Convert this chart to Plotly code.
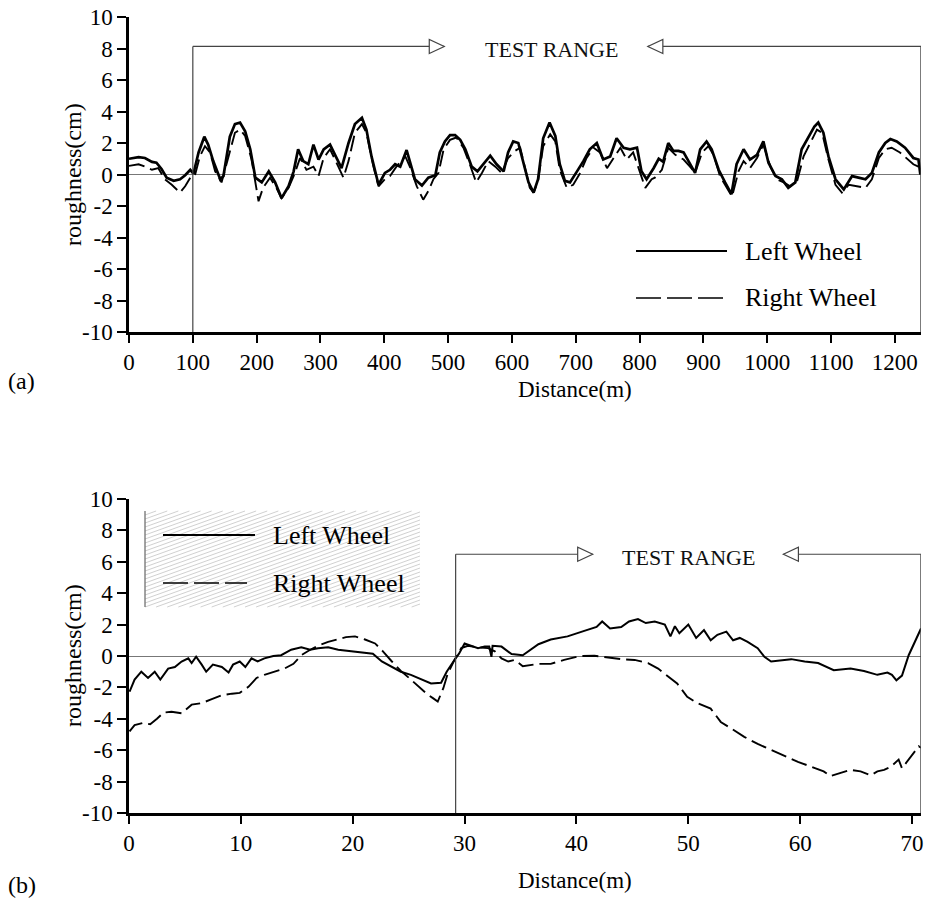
import plotly.graph_objects as go
from plotly.subplots import make_subplots

# ---------------- data ----------------
# (a) long road section, distance in m
top_x_left = [0, 15, 25, 36, 43, 51, 59, 70, 80, 88, 96, 101, 109, 118, 124, 132, 143, 148, 158, 166, 174, 182, 190, 198, 208, 219, 229, 239, 250, 258, 265, 273, 281, 289, 297, 305, 315, 323, 333, 344, 354, 365, 372, 380, 391, 401, 409, 417, 425, 435, 440, 448, 459, 469, 480, 487, 495, 503, 511, 519, 527, 537, 546, 555, 566, 576, 587, 594, 602, 610, 618, 626, 634, 641, 649, 659, 668, 675, 683, 691, 702, 712, 722, 733, 743, 754, 764, 775, 785, 796, 803, 811, 822, 830, 837, 845, 853, 861, 869, 877, 887, 895, 905, 913, 924, 934, 944, 952, 963, 973, 984, 994, 1002, 1013, 1023, 1033, 1044, 1054, 1065, 1074, 1080, 1088, 1096, 1107, 1120, 1133, 1143, 1154, 1164, 1175, 1185, 1193, 1203, 1216, 1229, 1237, 1240]
top_left = [1.0, 1.1, 1.05, 0.8, 0.75, 0.35, -0.2, -0.4, -0.3, -0.05, 0.3, 0.05, 1.4, 2.4, 1.9, 0.85, -0.3, -0.1, 2.4, 3.2, 3.3, 2.75, 1.6, -0.2, -0.5, 0.2, -0.5, -1.5, -0.75, 0.2, 1.6, 0.85, 0.65, 1.9, 0.95, 1.6, 1.9, 1.25, 0.4, 2.0, 3.2, 3.6, 2.85, 1.15, -0.65, 0.1, 0.3, 0.65, 0.5, 1.55, 0.85, -0.3, -0.7, -0.2, -0.05, 1.4, 2.1, 2.5, 2.5, 2.2, 1.6, 0.5, 0.2, 0.65, 1.2, 0.65, 0.2, 1.4, 2.1, 2.0, 0.65, -0.5, -1.15, -0.3, 2.3, 3.3, 2.45, 0.65, -0.4, -0.5, 0.2, 0.85, 1.6, 2.0, 0.95, 1.15, 2.3, 1.7, 1.6, 1.7, 0.2, -0.3, 0.4, 1.0, 0.8, 2.0, 1.5, 1.5, 1.4, 0.85, 0.1, 1.6, 2.1, 1.6, 0.3, -0.5, -1.25, 0.65, 1.6, 0.95, 1.25, 2.1, 0.75, -0.1, -0.3, -0.85, -0.5, 1.6, 2.45, 3.05, 3.3, 2.65, 1.15, -0.3, -0.95, -0.1, -0.2, -0.3, 0.1, 1.4, 2.0, 2.25, 2.1, 1.7, 1.05, 0.95, 0.0]

top_x_right = [0, 15, 25, 36, 46, 56, 67, 80, 88, 96, 103, 111, 119, 127, 135, 145, 156, 166, 174, 182, 192, 198, 203, 210, 221, 231, 239, 250, 260, 268, 278, 289, 297, 305, 315, 328, 336, 344, 354, 365, 372, 383, 391, 401, 409, 419, 433, 440, 451, 461, 469, 477, 485, 493, 503, 513, 524, 534, 544, 553, 563, 574, 584, 594, 605, 613, 621, 628, 634, 641, 649, 660, 668, 675, 686, 696, 707, 717, 728, 738, 749, 759, 770, 780, 790, 801, 809, 819, 824, 835, 845, 856, 869, 879, 887, 898, 908, 916, 926, 937, 945, 955, 963, 973, 984, 994, 1005, 1015, 1026, 1036, 1047, 1057, 1067, 1078, 1086, 1096, 1107, 1117, 1128, 1141, 1154, 1164, 1175, 1185, 1195, 1208, 1221, 1229, 1237]
top_right = [0.55, 0.65, 0.5, 0.3, 0.4, -0.3, -0.65, -1.15, -0.75, -0.2, -0.1, 1.15, 1.8, 1.4, 0.2, -0.5, 1.15, 2.65, 2.85, 2.45, 0.95, -0.5, -1.7, -0.85, -0.2, -0.85, -1.5, -0.85, 0.1, 1.05, 0.3, 0.5, -0.1, 1.05, 1.6, 0.5, -0.2, 0.85, 2.65, 3.2, 2.65, 0.5, -0.75, -0.3, -0.1, 0.5, 1.15, 0.5, -0.75, -1.6, -1.05, -0.3, 0.1, 1.6, 2.2, 2.35, 1.7, 0.65, -0.5, 0.1, 0.85, 0.5, 0.1, 1.05, 1.5, 1.7, 0.4, -0.85, -1.15, -0.4, 1.8, 2.55, 2.1, 0.3, -0.85, -0.65, 0.1, 1.05, 1.7, 1.4, 0.4, 1.05, 1.7, 0.95, 1.4, 0.1, -0.85, -0.3, -0.2, 0.3, 1.7, 1.25, 0.95, 0.5, 0.1, 1.4, 1.8, 1.25, -0.1, -0.85, -1.4, 0.2, 0.85, 0.4, 1.05, 1.9, 0.5, -0.3, -0.5, -0.75, -0.4, 1.15, 2.0, 2.85, 2.65, 0.95, -0.65, -1.15, -0.65, -0.75, -0.85, -0.3, 1.05, 1.6, 1.7, 1.4, 0.95, 0.65, 0.5]

# (b) short section, distance in m
bot_x_left = [0.05, 0.5, 1.1, 1.7, 2.3, 2.8, 3.5, 4.1, 4.7, 5.3, 5.6, 6.0, 6.5, 6.9, 7.5, 8.3, 8.9, 9.3, 9.9, 10.4, 10.95, 11.5, 12.1, 12.9, 13.6, 14.5, 15.4, 16.2, 16.9, 17.8, 18.7, 19.9, 21.1, 21.8, 22.6, 23.5, 24.3, 25.2, 26.1, 27.0, 27.9, 28.4, 29.0, 29.5, 30.0, 30.6, 31.2, 31.8, 32.2, 32.4, 32.5, 33.3, 34.2, 35.2, 36.6, 37.7, 39.2, 40.7, 41.8, 42.3, 43.0, 44.0, 44.7, 45.5, 46.2, 47.0, 47.9, 48.4, 48.8, 49.2, 50.0, 50.7, 51.4, 52.0, 52.6, 53.4, 54.0, 54.6, 55.3, 56.2, 56.8, 57.4, 58.0, 59.2, 60.4, 61.6, 63.0, 64.5, 65.7, 66.9, 67.8, 68.2, 68.6, 69.1, 69.7, 70.3, 70.8]
bot_left = [-2.27, -1.5, -1.0, -1.4, -1.0, -1.5, -0.8, -0.7, -0.35, -0.15, -0.45, -0.05, -0.55, -1.0, -0.55, -0.7, -1.05, -0.55, -0.35, -0.7, -0.15, -0.35, -0.15, 0.0, 0.05, 0.4, 0.55, 0.4, 0.5, 0.55, 0.4, 0.3, 0.2, 0.15, -0.35, -0.7, -1.0, -1.2, -1.5, -1.75, -1.7, -1.0, -0.35, 0.15, 0.8, 0.65, 0.5, 0.6, 0.6, -0.05, 0.65, 0.6, 0.12, 0.05, 0.75, 1.05, 1.25, 1.6, 1.85, 2.2, 1.75, 1.85, 2.2, 2.35, 2.1, 2.2, 2.0, 1.25, 1.9, 1.45, 2.0, 1.15, 1.65, 1.0, 1.35, 1.55, 1.0, 1.15, 0.9, 0.5, -0.05, -0.35, -0.3, -0.2, -0.35, -0.45, -0.9, -0.8, -0.95, -1.2, -1.05, -1.2, -1.55, -1.25, 0.05, 1.0, 1.75]

bot_x_right = [0.05, 0.5, 1.3, 1.9, 2.5, 3.1, 3.8, 4.7, 5.6, 6.5, 7.4, 8.3, 9.2, 9.9, 10.7, 11.4, 12.1, 13.0, 13.9, 14.7, 15.4, 16.2, 16.9, 17.8, 18.7, 19.4, 20.2, 21.1, 22.0, 22.7, 23.5, 24.3, 25.2, 26.0, 26.6, 27.2, 27.6, 28.1, 28.5, 29.1, 29.7, 30.3, 31.2, 32.1, 32.7, 33.3, 33.9, 34.5, 35.2, 36.6, 37.7, 38.9, 40.3, 41.6, 42.8, 44.0, 45.2, 46.4, 47.3, 48.2, 49.0, 49.9, 50.8, 52.0, 52.9, 53.8, 55.0, 56.2, 57.4, 58.6, 59.8, 61.0, 62.1, 62.7, 63.6, 64.5, 65.4, 66.3, 66.9, 67.5, 68.1, 68.8, 69.1, 69.9, 70.6, 70.8]
bot_right = [-4.8, -4.4, -4.25, -4.35, -4.0, -3.6, -3.55, -3.65, -3.1, -3.0, -2.75, -2.5, -2.4, -2.35, -1.95, -1.4, -1.2, -1.0, -0.8, -0.5, 0.05, 0.4, 0.65, 0.9, 1.05, 1.2, 1.25, 1.05, 0.8, 0.3, -0.35, -0.95, -1.5, -2.05, -2.4, -2.7, -2.9, -2.05, -1.1, -0.25, 0.5, 0.65, 0.55, 0.5, 0.3, -0.15, -0.35, -0.25, -0.65, -0.5, -0.5, -0.25, 0.0, 0.02, -0.1, -0.2, -0.25, -0.45, -0.8, -1.3, -1.75, -2.6, -3.0, -3.35, -4.2, -4.6, -5.15, -5.6, -6.0, -6.4, -6.75, -7.05, -7.35, -7.65, -7.45, -7.25, -7.35, -7.6, -7.35, -7.25, -7.05, -6.6, -7.15, -6.4, -5.75, -5.85]

y_tick_vals = [-10, -8, -6, -4, -2, 0, 2, 4, 6, 8, 10]
y_tick_text = ["-10", "-8", "-6", "-4", "-2", "0", "2", "4", "6", "8", "10"]
top_x_ticks = [0, 100, 200, 300, 400, 500, 600, 700, 800, 900, 1000, 1100, 1200]
bot_x_ticks = [0, 10, 20, 30, 40, 50, 60, 70]

series_names = ["Left Wheel", "Right Wheel"]

# test-range annotation positions (data units)
top_range = dict(start=100, end=1241, level=8.13, tip_r=494, tip_l=813, text_x=662)
bot_range = dict(start=29.2, end=70.8, level=6.48, tip_r=41.45, tip_l=58.5, text_x=50.0)

# ---------------- figure ----------------
W, H = 933, 905
ML, MR, MT, MB = 129, 12, 17, 92
PW, PH = W - ML - MR, H - MT - MB

def px2paper_x(px):
    return (px - ML) / PW

def px2paper_y(py):
    return (H - MB - py) / PH

FONT = "Liberation Serif, Times New Roman, serif"

fig = make_subplots(rows=2, cols=1)

line_solid = dict(color="black", width=2.7)
line_dash = dict(color="black", width=1.9, dash="16px,6px")

fig.add_trace(go.Scatter(x=top_x_left, y=top_left, mode="lines", line=line_solid,
                         name=series_names[0], showlegend=False), row=1, col=1)
fig.add_trace(go.Scatter(x=top_x_right, y=top_right, mode="lines", line=line_dash,
                         name=series_names[1], showlegend=False), row=1, col=1)
fig.add_trace(go.Scatter(x=bot_x_left, y=bot_left, mode="lines",
                         line=dict(color="black", width=2.0),
                         name=series_names[0], showlegend=False), row=2, col=1)
fig.add_trace(go.Scatter(x=bot_x_right, y=bot_right, mode="lines", line=line_dash,
                         name=series_names[1], showlegend=False), row=2, col=1)

axis_common = dict(showgrid=False, showline=True, linecolor="black", linewidth=2.5,
                   ticks="outside", tickcolor="black", tickwidth=1.5, automargin=False,
                   tickfont=dict(family=FONT, size=23, color="black"))

fig.update_layout(
    template="none",
    width=W, height=H,
    margin=dict(l=ML, r=MR, t=MT, b=MB, autoexpand=False),
    paper_bgcolor="white", plot_bgcolor="white",
    font=dict(family=FONT, color="black"),
    showlegend=False,
    xaxis=dict(domain=[0, 1], range=[0, 1241], tickvals=top_x_ticks, ticklen=8,
               zeroline=False, anchor="y", **axis_common),
    yaxis=dict(domain=[px2paper_y(332), 1], range=[-10, 10], tickvals=y_tick_vals,
               ticktext=y_tick_text, ticklen=9, zeroline=True, zerolinecolor="#777",
               zerolinewidth=1.2, anchor="x", **axis_common),
    xaxis2=dict(domain=[0, 1], range=[0, 70.8], tickvals=bot_x_ticks, ticklen=8,
                zeroline=False, anchor="y2", **axis_common),
    yaxis2=dict(domain=[0, px2paper_y(499)], range=[-10, 10], tickvals=y_tick_vals,
                ticktext=y_tick_text, ticklen=9, zeroline=True, zerolinecolor="#777",
                zerolinewidth=1.2, anchor="x2", **axis_common),
)

shapes = []
annotations = []
RC = "#444"

def add_range(r, xref, yref):
    shapes.append(dict(type="line", xref=xref, yref=yref, x0=r["start"], x1=r["start"],
                       y0=-10, y1=r["level"], line=dict(color=RC, width=1.2)))
    shapes.append(dict(type="line", xref=xref, yref=yref, x0=r["start"], x1=r["tip_r"],
                       y0=r["level"], y1=r["level"], line=dict(color=RC, width=1.2)))
    shapes.append(dict(type="line", xref=xref, yref=yref, x0=r["tip_l"], x1=r["end"],
                       y0=r["level"], y1=r["level"], line=dict(color=RC, width=1.2)))
    shapes.append(dict(type="line", xref=xref, yref=yref, x0=r["end"], x1=r["end"],
                       y0=r["level"], y1=-10, line=dict(color=RC, width=1.4)))
    shapes.append(dict(type="path", xref=xref, yref=yref, xsizemode="pixel", ysizemode="pixel",
                       xanchor=r["tip_r"], yanchor=r["level"],
                       path="M -15 -7 L 0 0 L -15 7 Z",
                       fillcolor="white", line=dict(color=RC, width=1.2)))
    shapes.append(dict(type="path", xref=xref, yref=yref, xsizemode="pixel", ysizemode="pixel",
                       xanchor=r["tip_l"], yanchor=r["level"],
                       path="M 15 -7 L 0 0 L 15 7 Z",
                       fillcolor="white", line=dict(color=RC, width=1.2)))
    annotations.append(dict(xref=xref, yref=yref, x=r["text_x"], y=r["level"], yshift=-3,
                            text="TEST RANGE", showarrow=False, xanchor="center", yanchor="middle",
                            font=dict(family=FONT, size=22, color="#111")))

add_range(top_range, "x", "y")
add_range(bot_range, "x2", "y2")

# hatched legend box for (b)
HX0, HX1, HY0, HY1 = 145, 420, 511, 607
k, step = 0.36, 4.0
c = HY0 + step
while c < HY1 + k * (HX1 - HX0):
    xs = max(HX0, HX0 + (c - HY1) / k)
    xe = min(HX1, HX0 + (c - HY0) / k)
    if xe > xs:
        ys = c - k * (xs - HX0)
        ye = c - k * (xe - HX0)
        shapes.append(dict(type="line", xref="paper", yref="paper",
                           x0=px2paper_x(xs), x1=px2paper_x(xe),
                           y0=px2paper_y(ys), y1=px2paper_y(ye),
                           line=dict(color="#c4c4c4", width=0.8), layer="below"))
    c += step
shapes.append(dict(type="line", xref="paper", yref="paper",
                   x0=px2paper_x(HX0), x1=px2paper_x(HX0),
                   y0=px2paper_y(HY0), y1=px2paper_y(HY1),
                   line=dict(color="#666", width=1.2)))

def legend(x0, x1, x1d, ys, yd, xt):
    shapes.append(dict(type="line", xref="paper", yref="paper",
                       x0=px2paper_x(x0), x1=px2paper_x(x1),
                       y0=px2paper_y(ys), y1=px2paper_y(ys),
                       line=dict(color="black", width=2)))
    shapes.append(dict(type="line", xref="paper", yref="paper",
                       x0=px2paper_x(x0), x1=px2paper_x(x1d),
                       y0=px2paper_y(yd), y1=px2paper_y(yd),
                       line=dict(color="black", width=1.5, dash="25px,6px")))
    for name, yy in zip(series_names, [ys, yd]):
        annotations.append(dict(xref="paper", yref="paper", x=px2paper_x(xt), y=px2paper_y(yy),
                                text=name, showarrow=False, xanchor="left", yanchor="middle",
                                font=dict(family=FONT, size=26, color="black")))

legend(636, 727, 727, 251, 298, 743)
legend(163, 255, 247, 535, 583, 271)

for yc in [175, 656]:
    annotations.append(dict(xref="paper", yref="paper", x=px2paper_x(73), y=px2paper_y(yc),
                            text="roughness(cm)", textangle=-90, showarrow=False,
                            xanchor="center", yanchor="middle",
                            font=dict(family=FONT, size=24, color="black")))
for yc in [389, 880]:
    annotations.append(dict(xref="paper", yref="paper", x=px2paper_x(575), y=px2paper_y(yc),
                            text="Distance(m)", showarrow=False,
                            xanchor="center", yanchor="middle",
                            font=dict(family=FONT, size=23, color="black")))
for lab, yc in [("(a)", 381), ("(b)", 885)]:
    annotations.append(dict(xref="paper", yref="paper", x=px2paper_x(6), y=px2paper_y(yc),
                            text=lab, showarrow=False, xanchor="left", yanchor="middle",
                            font=dict(family=FONT, size=24, color="black")))

fig.update_layout(shapes=shapes, annotations=annotations)
fig.write_html("out.html")
